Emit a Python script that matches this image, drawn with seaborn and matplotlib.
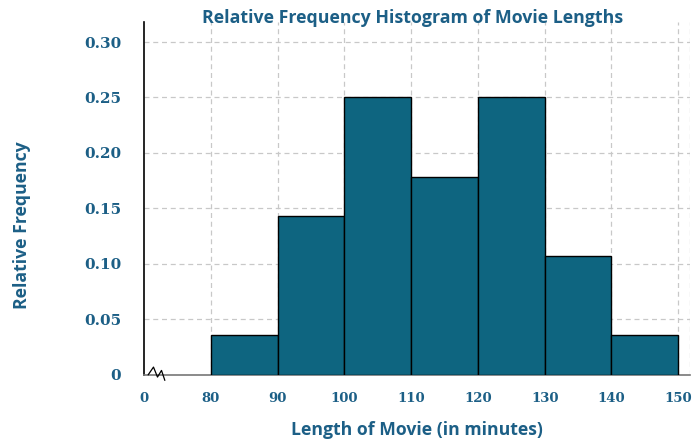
import numpy as np
import pandas as pd
import matplotlib
matplotlib.use("Agg")
import matplotlib.pyplot as plt
import seaborn as sns

# class edges (minutes) and relative frequencies (counts out of 28)
bin_edges = [80, 90, 100, 110, 120, 130, 140, 150]
counts = [1, 4, 7, 5, 7, 3, 1]
rel_freq = [c / sum(counts) for c in counts]
x_ticks = [70, 80, 90, 100, 110, 120, 130, 140, 150]
x_tick_labels = ["0", "80", "90", "100", "110", "120", "130", "140", "150"]
y_ticks = [0, 0.05, 0.10, 0.15, 0.20, 0.25, 0.30]
y_tick_labels = ["0", "0.05", "0.10", "0.15", "0.20", "0.25", "0.30"]

df = pd.DataFrame({
    "mid": [(a + b) / 2 for a, b in zip(bin_edges[:-1], bin_edges[1:])],
    "rf": rel_freq,
})

sns.set_style("white")
label_color = "#1c5f86"
bar_color = "#0e6580"

fig = plt.figure(figsize=(6.93, 4.41), dpi=100)
ax = fig.add_axes([0.208, 0.150, 0.788, 0.800])

sns.histplot(data=df, x="mid", weights="rf", bins=bin_edges, stat="count",
             color=bar_color, edgecolor="black", linewidth=1.0, alpha=1.0,
             ax=ax, zorder=3)

ax.set_xlim(70, 151.8)
ax.set_ylim(0, 0.318)

# dashed grid
for t in x_ticks[1:] + [151.7]:
    ax.axvline(t, color="#c8c8c8", linestyle=(0, (4, 3)), linewidth=0.9, zorder=0)
for t in y_ticks[1:]:
    ax.axhline(t, color="#c8c8c8", linestyle=(0, (4, 3)), linewidth=0.9, zorder=0)

ax.set_xticks(x_ticks)
ax.set_xticklabels(x_tick_labels)
ax.set_yticks(y_ticks)
ax.set_yticklabels(y_tick_labels)
for lbl in ax.get_xticklabels():
    lbl.set_fontfamily("DejaVu Serif")
    lbl.set_fontweight("bold")
    lbl.set_fontsize(9.5)
    lbl.set_color(label_color)
for lbl in ax.get_yticklabels():
    lbl.set_fontfamily("DejaVu Serif")
    lbl.set_fontweight("bold")
    lbl.set_fontsize(11)
    lbl.set_color(label_color)
ax.tick_params(axis="x", length=4, color="#555555", pad=8)
ax.tick_params(axis="y", length=5, color="#555555", pad=14, direction="inout")

for s in ["top", "right"]:
    ax.spines[s].set_visible(False)
ax.spines["left"].set_color("black")
ax.spines["left"].set_linewidth(1.2)
ax.spines["bottom"].set_color("#777777")
ax.spines["bottom"].set_linewidth(1.2)

# axis break zigzag near the origin
zx = [70.6, 71.4, 72.0, 72.6, 73.1]
zy = [0.0, 0.007, -0.002, 0.004, -0.005]
ax.plot(zx, zy, color="black", linewidth=0.9, clip_on=False, zorder=5)

ax.set_xlabel("Length of Movie (in minutes)", fontfamily="Open Sans",
              fontweight="bold", fontsize=12.7, color=label_color, labelpad=12)
ax.set_ylabel("")
fig.text(22 / 693, 1 - 225 / 441, "Relative Frequency", rotation=90,
         fontfamily="Open Sans", fontweight="bold", fontsize=12.7,
         color=label_color, ha="center", va="center")
fig.text(0.595, 1 - 18 / 441, "Relative Frequency Histogram of Movie Lengths",
         fontfamily="Open Sans", fontweight="bold", fontsize=12.8,
         color=label_color, ha="center", va="center")

fig.savefig("out.png", dpi=100)
